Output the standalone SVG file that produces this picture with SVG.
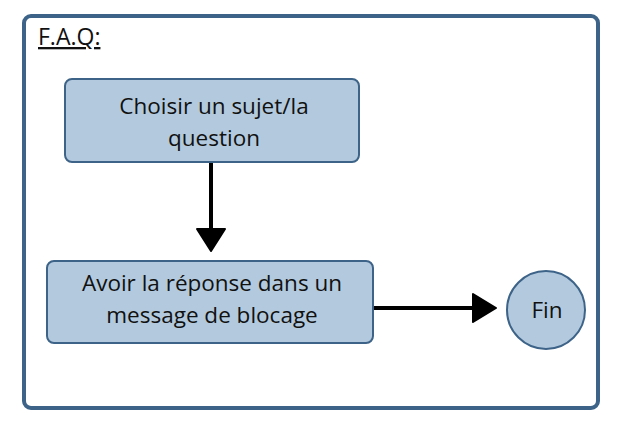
<svg xmlns="http://www.w3.org/2000/svg" width="618" height="430" viewBox="0 0 618 430">
<style>
.node{fill:#b3cade;stroke:#3d6388;stroke-width:2}
.t{font-family:"Open Sans","Noto Sans",sans-serif;font-size:22.5px;fill:#111;text-anchor:middle}
.edge{stroke:#000;stroke-width:4;fill:none}
.head{fill:#000;stroke:#000;stroke-width:2;stroke-linejoin:round}
</style>
<g id="frame">
<rect x="24" y="16" width="574" height="392" rx="7" fill="#fff" stroke="#3d6388" stroke-width="4"/>
<text x="38" y="45" font-family="'Open Sans','Noto Sans',sans-serif" font-size="23" fill="#111" text-decoration="underline">F.A.Q:</text>
</g>
<g id="connectors">
<line class="edge" x1="211" y1="162" x2="211" y2="230"/>
<path class="head" d="M197,229 L225,229 L211,251 Z"/>
<line class="edge" x1="373" y1="308" x2="474" y2="308"/>
<path class="head" d="M473,294 L496,308 L473,322 Z"/>
</g>
<g id="n1">
<rect class="node" x="65" y="79" width="294" height="83" rx="7"/>
<text class="t" x="214" y="114">Choisir un sujet/la</text>
<text class="t" x="214" y="146">question</text>
</g>
<g id="n2">
<rect class="node" x="47" y="261" width="326" height="82" rx="7"/>
<text class="t" x="212" y="291">Avoir la réponse dans un</text>
<text class="t" x="212" y="323">message de blocage</text>
</g>
<g id="n3">
<circle class="node" cx="546" cy="310" r="39"/>
<text class="t" x="547" y="318">Fin</text>
</g>
</svg>
